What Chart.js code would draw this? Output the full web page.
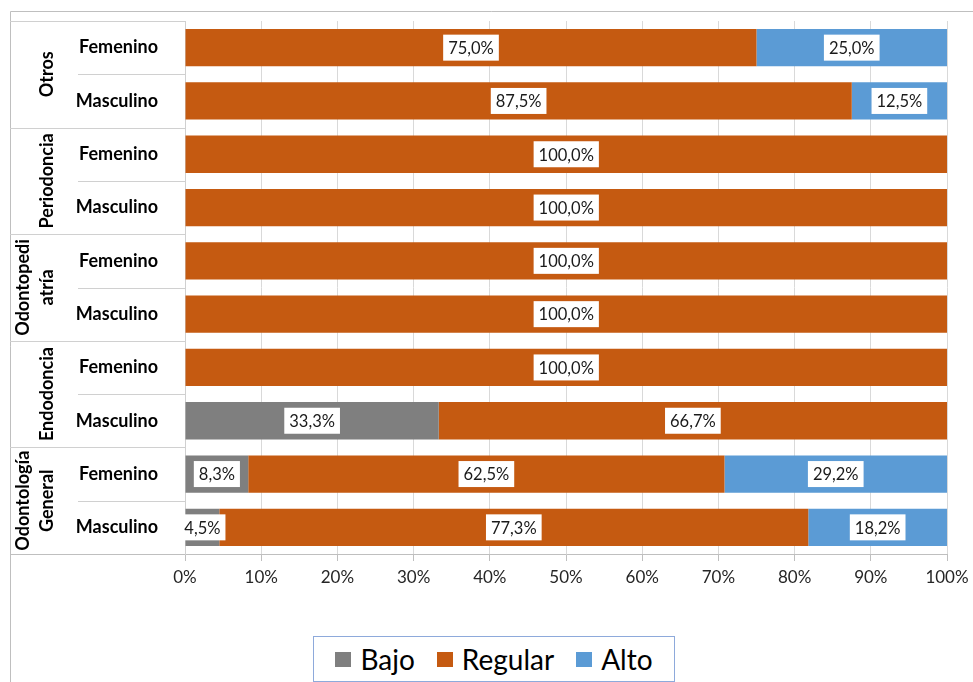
<!DOCTYPE html>
<html>
<head>
<meta charset="utf-8">
<script src="https://cdn.jsdelivr.net/npm/chart.js@4"></script>
<style>
  body { margin: 0; background: #fff; }
  #wrap { position: relative; width: 973px; height: 682px; }
  #legend {
    position: absolute; left: 313px; top: 636px; width: 360px; height: 44px;
    border: 1px solid #8eaadb; background: #fff;
    display: flex; align-items: center; justify-content: center;
    font-family: Lato, sans-serif; font-size: 28px; color: #000;
  }
  #legend span.item { display: flex; align-items: center; margin: 0 11px; }
  #legend i { display: inline-block; width: 16px; height: 15px; margin-right: 9px; }
</style>
</head>
<body>
<div id="wrap">
  <canvas id="chart" width="973" height="682"></canvas>
  <div id="legend"></div>
</div>
<script>
var groups = [['Otros'], ['Periodoncia'], ['Odontopedi', 'atría'], ['Endodoncia'], ['Odontología', 'General']];
var genders = ['Femenino', 'Masculino'];

var bajo    = [0, 0, 0, 0, 0, 0, 0, 33.3, 8.3, 4.5];
var regular = [75.0, 87.5, 100, 100, 100, 100, 100, 66.7, 62.5, 77.3];
var alto    = [25.0, 12.5, 0, 0, 0, 0, 0, 0, 29.2, 18.2];

var seriesNames = ['Bajo', 'Regular', 'Alto'];
var seriesColors = ['#7f7f7f', '#c55a11', '#5b9bd5'];

var labels = [];
groups.forEach(function (g) {
  genders.forEach(function (s) { labels.push(s); });
});

function fmt(v) {
  return v.toFixed(1).replace('.', ',') + '%';
}

// white boxes with the values, centred on each segment
var valueLabels = {
  id: 'valueLabels',
  afterDatasetsDraw: function (chart) {
    var ctx = chart.ctx;
    ctx.save();
    ctx.font = '16.5px Lato, sans-serif';
    ctx.textAlign = 'center';
    ctx.textBaseline = 'middle';
    chart.data.datasets.forEach(function (ds, i) {
      var meta = chart.getDatasetMeta(i);
      meta.data.forEach(function (bar, j) {
        var v = ds.data[j];
        if (!v) return;
        var cx = (bar.x + bar.base) / 2;
        var txt = fmt(v);
        var w = ctx.measureText(txt).width + 10;
        var h = 26;
        ctx.fillStyle = '#fff';
        ctx.fillRect(cx - w / 2, bar.y - h / 2, w, h);
        ctx.fillStyle = '#1a1a1a';
        ctx.fillText(txt, cx, bar.y + 1);
      });
    });
    ctx.restore();
  }
};

// frame, two-level category table on the left
var groupAxis = {
  id: 'groupAxis',
  beforeDraw: function (chart) {
    var ctx = chart.ctx;
    ctx.save();
    ctx.strokeStyle = '#bfbfbf';
    ctx.lineWidth = 1;
    ctx.beginPath();
    ctx.moveTo(10.5, chart.height);
    ctx.lineTo(10.5, 11.5);
    ctx.lineTo(chart.width, 11.5);
    ctx.stroke();
    ctx.restore();
  },
  afterDraw: function (chart) {
    var ctx = chart.ctx;
    var y = chart.scales.y;
    var area = chart.chartArea;
    var rowH = (area.bottom - area.top) / labels.length;
    ctx.save();
    ctx.strokeStyle = '#d0d0d0';
    ctx.lineWidth = 1;
    for (var k = 0; k <= labels.length; k++) {
      var py = Math.round(area.top + k * rowH) + 0.5;
      ctx.beginPath();
      if (k % 2 === 0) {
        ctx.moveTo(10, py);
      } else {
        ctx.moveTo(78, py);
      }
      ctx.lineTo(area.left, py);
      ctx.stroke();
    }
    ctx.strokeStyle = '#bfbfbf';
    ctx.beginPath();
    ctx.moveTo(10, Math.round(area.bottom) + 0.5);
    ctx.lineTo(area.left, Math.round(area.bottom) + 0.5);
    ctx.stroke();

    ctx.fillStyle = '#000';
    ctx.font = 'bold 18px Lato, sans-serif';
    ctx.textAlign = 'center';
    ctx.textBaseline = 'middle';
    groups.forEach(function (g, gi) {
      var cy = (y.getPixelForValue(gi * 2) + y.getPixelForValue(gi * 2 + 1)) / 2;
      g.forEach(function (line, li) {
        var cx = 47 - (g.length - 1 - li) * 24;
        ctx.save();
        ctx.translate(cx, cy);
        ctx.rotate(-Math.PI / 2);
        ctx.fillText(line, 0, 0);
        ctx.restore();
      });
    });
    ctx.restore();
  }
};

var datasets = [bajo, regular, alto].map(function (d, i) {
  return {
    label: seriesNames[i],
    data: d,
    backgroundColor: seriesColors[i],
    borderWidth: 0,
    barPercentage: 0.7,
    categoryPercentage: 1.0
  };
});

var config = {
  type: 'bar',
  data: { labels: labels, datasets: datasets },
  options: {
    indexAxis: 'y',
    responsive: false,
    animation: false,
    layout: { padding: { left: 10, right: 26, top: 21, bottom: 88 } },
    plugins: {
      legend: { display: false },
      tooltip: { enabled: false }
    },
    scales: {
      x: {
        stacked: true,
        min: 0,
        max: 100,
        ticks: {
          stepSize: 10,
          padding: 6,
          color: '#262626',
          font: { family: 'Lato', size: 17 },
          callback: function (v) { return v + '%'; }
        },
        grid: { color: '#d9d9d9', tickColor: '#bfbfbf', tickLength: 7 },
        border: { color: '#bfbfbf' },
        afterFit: function (scale) {
          scale.height = 40;
          scale.paddingLeft = 0;
          scale.paddingRight = 0;
        }
      },
      y: {
        stacked: true,
        ticks: {
          padding: 19,
          color: '#000',
          font: { family: 'Lato', size: 18, weight: 'bold' }
        },
        grid: { display: false },
        border: { color: '#d0d0d0' },
        afterFit: function (scale) {
          scale.width = 175;
          scale.paddingTop = 0;
          scale.paddingBottom = 0;
        }
      }
    }
  },
  plugins: [valueLabels, groupAxis]
};

var chart = new Chart(document.getElementById('chart'), config);

var legend = document.getElementById('legend');
seriesNames.forEach(function (n, i) {
  var s = document.createElement('span');
  s.className = 'item';
  s.innerHTML = '<i style="background:' + seriesColors[i] + '"></i>' + n;
  legend.appendChild(s);
});
</script>
</body>
</html>
